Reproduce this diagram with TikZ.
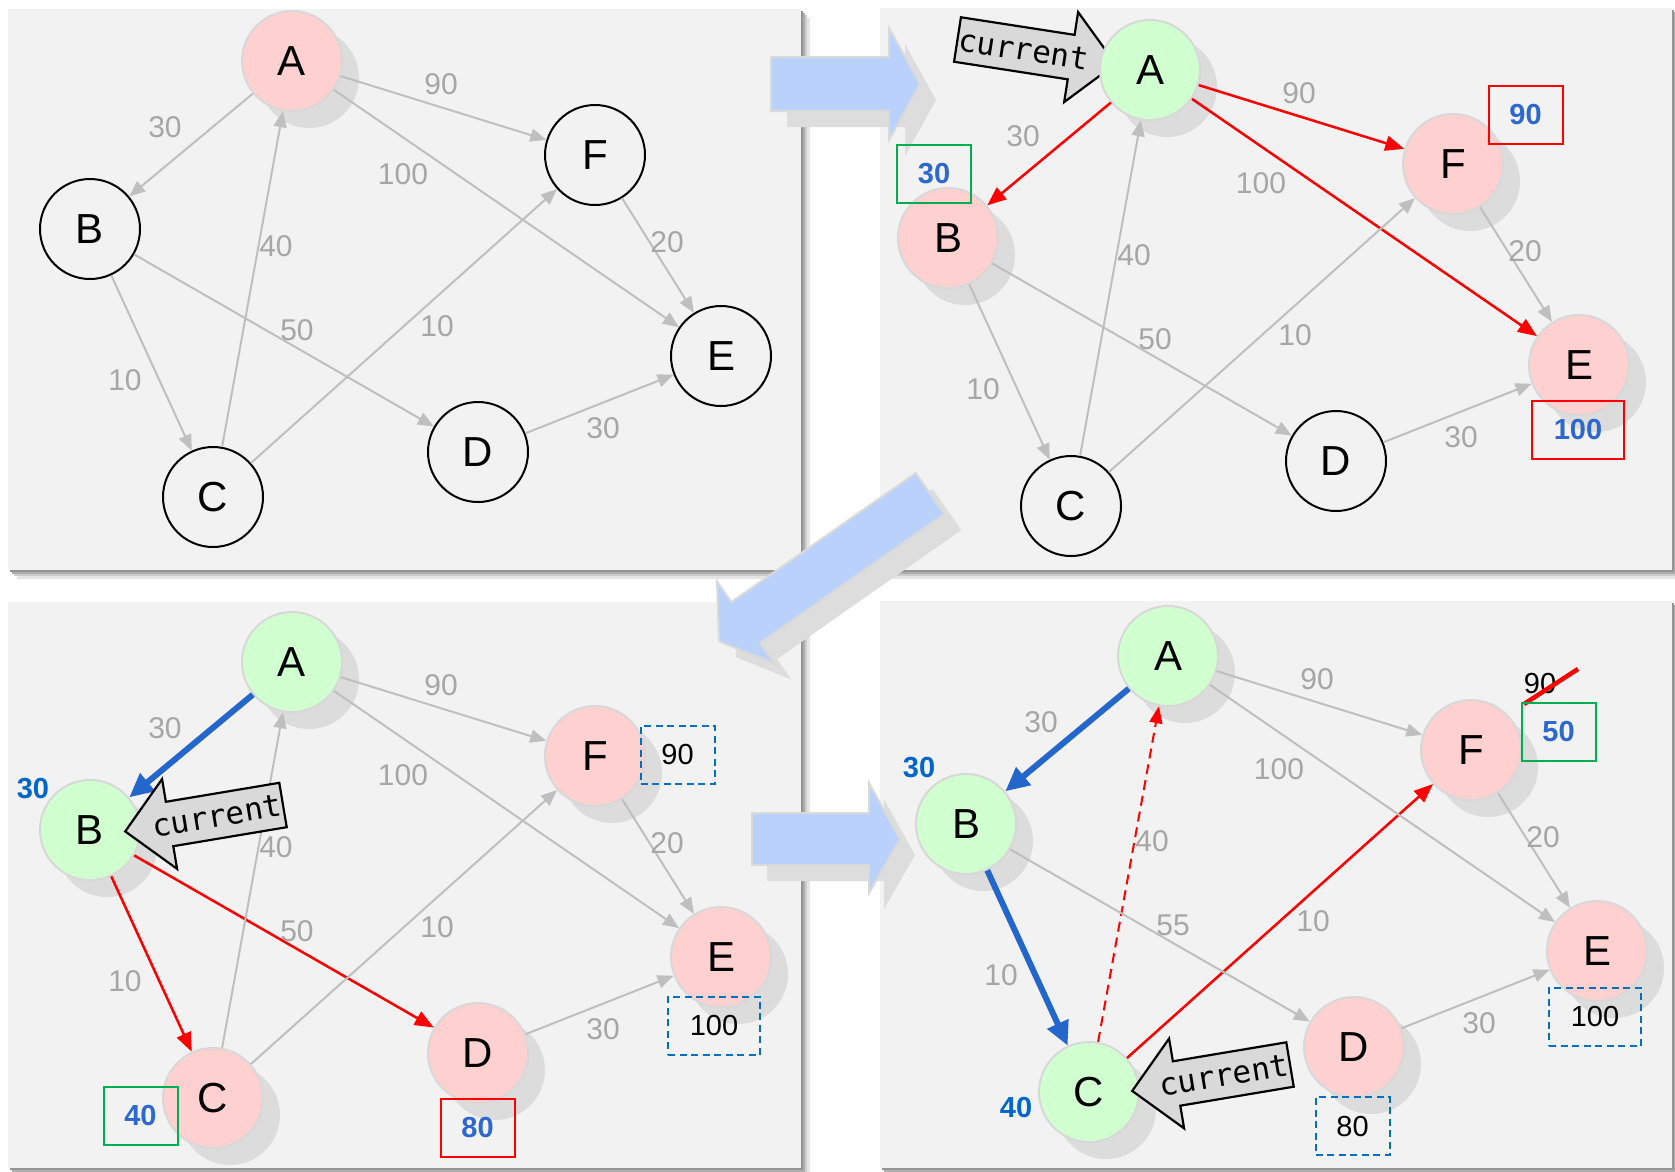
\documentclass[tikz,border=0pt]{standalone}
\usepackage{fontspec}
\setmainfont{Liberation Sans}
\newfontfamily\monof{DejaVu Sans Mono}
\usetikzlibrary{arrows.meta,shadows}
\definecolor{panelbg}{RGB}{242,242,242}
\definecolor{edgec}{RGB}{191,191,191}
\definecolor{labc}{RGB}{166,166,166}
\definecolor{pinkc}{RGB}{255,208,208}
\definecolor{greenc}{RGB}{208,255,208}
\definecolor{nodeline}{RGB}{216,216,216}
\definecolor{shadc}{RGB}{220,220,220}
\definecolor{arrblue}{RGB}{186,209,252}
\definecolor{arrline}{RGB}{218,218,218}
\definecolor{arrshad}{RGB}{221,221,221}
\definecolor{curfill}{RGB}{217,217,217}
\definecolor{boxgreen}{RGB}{0,176,80}
\definecolor{boxblue}{RGB}{0,112,192}
\definecolor{txtblue}{RGB}{45,104,206}
\definecolor{labblue}{RGB}{0,102,204}
\definecolor{thickblue}{RGB}{35,102,204}

\newcommand\mkgraph[9]{%
  \begin{scope}[shift={(#2,#3)}]
    \node[#4] (#1A) at (292,61) {A};
    \node[#5] (#1B) at (90,229) {B};
    \node[#6] (#1C) at (213,497) {C};
    \node[#7] (#1D) at (478,452) {D};
    \node[#8] (#1E) at (721,356) {E};
    \node[#9] (#1F) at (595,155) {F};
  \end{scope}}

\newcommand\mklabels[4]{%
  \begin{scope}[shift={(#2,#3)}]
    \node[elab] (#1l1) at (165,127) {30};
    \node[elab] (#1l2) at (441,84) {90};
    \node[elab] (#1l3) at (403,174) {100};
    \node[elab] (#1l4) at (276,246) {40};
    \node[elab] (#1l5) at (667,242) {20};
    \node[elab] (#1l6) at (297,330) {#4};
    \node[elab] (#1l7) at (437,326) {10};
    \node[elab] (#1l8) at (125,380) {10};
    \node[elab] (#1l9) at (603,428) {30};
  \end{scope}}

\newcommand\curarrow[5]{%
  \begin{scope}[shift={(#2,#3)}, rotate=#4]
    \filldraw[fill=curfill, draw=black, line width=2.2pt, line join=miter]
      (0,-22.5) -- (115,-22.5) -- (115,-45.5) -- (160,0) -- (115,45.5) -- (115,22.5) -- (0,22.5) -- cycle;
    \node[rotate=#5, font=\monof\fontsize{31}{31}\selectfont, inner sep=0pt] (#1) at (67,0) {current};
  \end{scope}}

\begin{document}
\begin{tikzpicture}[x=1pt,y=-1pt,
  basenode/.style={circle, line width=2pt, minimum size=100pt, inner sep=0pt, font=\fontsize{42}{42}\selectfont},
  wnode/.style={basenode, draw=black},
  pnode/.style={basenode, draw=nodeline, fill=pinkc, drop shadow={shadow xshift=17pt, shadow yshift=-17pt, fill=shadc, opacity=1}},
  gnode/.style={basenode, draw=nodeline, fill=greenc, drop shadow={shadow xshift=17pt, shadow yshift=-17pt, fill=shadc, opacity=1}},
  gE/.style={draw=edgec, line width=2pt, -{Triangle[length=16pt,width=13pt]}},
  rE/.style={draw=red, line width=2.5pt, -{Triangle[length=19pt,width=15pt]}},
  rdE/.style={draw=red, line width=2pt, dash pattern=on 10pt off 6pt, -{Triangle[length=17pt,width=13pt]}},
  bE/.style={draw=thickblue, line width=6pt, -{Triangle[length=24pt,width=22pt]}},
  elab/.style={text=labc, inner sep=0pt, font=\fontsize{30}{30}\selectfont},
  blab/.style={text=labblue, inner sep=0pt, font=\bfseries\fontsize{29}{29}\selectfont},
  boxbase/.style={line width=2pt, minimum width=74pt, minimum height=58pt, inner sep=0pt},
  gbox/.style={boxbase, draw=boxgreen, text=txtblue, font=\bfseries\fontsize{29}{29}\selectfont},
  rbox/.style={boxbase, draw=red, text=txtblue, font=\bfseries\fontsize{29}{29}\selectfont},
  dbox/.style={boxbase, draw=boxblue, dash pattern=on 7pt off 4.5pt, text=black, font=\fontsize{29}{29}\selectfont},
  dtxt/.style={inner sep=0pt, text=black, font=\fontsize{29}{29}\selectfont},
]
\useasboundingbox (0,0) rectangle (1675,1171);
\fill[white] (0,0) rectangle (1675,1171);

% panels with shadows
\foreach \xa/\ya/\xb/\yb in {8/9/801/570, 880/8/1672/570, 8/602/801/1168, 880/601/1672/1168} {
  \fill[black!10] (\xa+9,\ya+9) rectangle (\xb+9,\yb+9);
  \fill[black!20] (\xa+6,\ya+6) rectangle (\xb+6,\yb+6);
  \fill[black!32] (\xa+3.5,\ya+3.5) rectangle (\xb+3.5,\yb+3.5);
  \fill[black!42] (\xa+1.5,\ya+1.5) rectangle (\xb+1.5,\yb+1.5);
  \fill[panelbg] (\xa,\ya) rectangle (\xb,\yb);
}

% block arrows between panels
\fill[arrshad] (787,73) -- (905,73) -- (905,44) -- (936,100) -- (905,156) -- (905,127) -- (787,127) -- cycle;
\filldraw[fill=arrblue, draw=arrline, line width=2pt] (771,57) -- (889,57) -- (889,28) -- (920,84) -- (889,140) -- (889,111) -- (771,111) -- cycle;

\fill[arrshad] (767,829) -- (884,829) -- (884,799) -- (915,855) -- (884,909) -- (884,881) -- (767,881) -- cycle;
\filldraw[fill=arrblue, draw=arrline, line width=2pt] (752,813) -- (869,813) -- (869,783) -- (900,839) -- (869,893) -- (869,865) -- (752,865) -- cycle;

\begin{scope}[shift={(947,509.5)}, rotate=215]
  \fill[arrshad] (0,-25) -- (225,-25) -- (225,-50) -- (257.5,0) -- (225,50) -- (225,25) -- (0,25) -- cycle;
\end{scope}
\begin{scope}[shift={(930,493.5)}, rotate=215]
  \filldraw[fill=arrblue, draw=arrline, line width=2pt] (0,-25) -- (225,-25) -- (225,-50) -- (257.5,0) -- (225,50) -- (225,25) -- (0,25) -- cycle;
\end{scope}

% ---------------- Panel 1 ----------------
\mkgraph{a}{0}{0}{pnode}{wnode}{wnode}{wnode}{wnode}{wnode}
\draw[gE] (aA) -- (aB);
\draw[gE] (aA) -- (aF);
\draw[gE] (aA) -- (aE);
\draw[gE] (aB) -- (aC);
\draw[gE] (aB) -- (aD);
\draw[gE] (aC) -- (aA);
\draw[gE] (aC) -- (aF);
\draw[gE] (aF) -- (aE);
\draw[gE] (aD) -- (aE);
\mklabels{a}{0}{0}{50}

% ---------------- Panel 2 ----------------
\curarrow{bcur}{957.5}{39.5}{-8.8}{-8.8}
\mkgraph{b}{858}{9}{gnode}{pnode}{wnode}{wnode}{pnode}{pnode}
\draw[rE] (bA) -- (bB);
\draw[rE] (bA) -- (bF);
\draw[rE] (bA) -- (bE);
\draw[gE] (bB) -- (bC);
\draw[gE] (bB) -- (bD);
\draw[gE] (bC) -- (bA);
\draw[gE] (bC) -- (bF);
\draw[gE] (bF) -- (bE);
\draw[gE] (bD) -- (bE);
\mklabels{b}{858}{9}{50}
\node[gbox] (b30) at (934,174) {30};
\node[rbox] (b90) at (1525.5,115) {90};
\node[rbox, minimum width=92pt] (b100) at (1578,429.5) {100};

% ---------------- Panel 3 ----------------
\mkgraph{c}{0}{601}{gnode}{gnode}{pnode}{pnode}{pnode}{pnode}
\draw[bE] (cA) -- (cB);
\draw[rE] (cB) -- (cC);
\draw[rE] (cB) -- (cD);
\draw[gE] (cA) -- (cF);
\draw[gE] (cA) -- (cE);
\draw[gE] (cC) -- (cA);
\draw[gE] (cC) -- (cF);
\draw[gE] (cF) -- (cE);
\draw[gE] (cD) -- (cE);
\mklabels{c}{0}{601}{50}
\node[blab] (c30) at (33,789) {30};
\node[dbox] (c90) at (677.5,754.5) {90};
\node[dbox, minimum width=92pt] (c100) at (714,1025.5) {100};
\node[gbox] (c40) at (140.5,1115.5) {40};
\node[rbox] (c80) at (477.5,1127.5) {80};
\curarrow{ccur}{283}{805}{189.5}{9.5}

% ---------------- Panel 4 ----------------
\mkgraph{d}{876}{595}{gnode}{gnode}{gnode}{pnode}{pnode}{pnode}
\draw[bE] (dA) -- (dB);
\draw[bE] (dB) -- (dC);
\draw[rdE] (dC) -- (dA);
\draw[rE] (dC) -- (dF);
\draw[gE] (dA) -- (dF);
\draw[gE] (dA) -- (dE);
\draw[gE] (dB) -- (dD);
\draw[gE] (dF) -- (dE);
\draw[gE] (dD) -- (dE);
\mklabels{d}{876}{595}{55}
\node[blab] (d30) at (919,768) {30};
\node[blab] (d40) at (1016,1107) {40};
\node[dtxt] (d90) at (1540,684) {90};
\coordinate (s1) at (1524,704);
\coordinate (s2) at (1578,669);
\draw[red, line width=4.5pt] (s1) -- (s2);
\node[gbox] (d50) at (1558.5,731.5) {50};
\node[dbox, minimum width=92pt] (d100) at (1595,1016.5) {100};
\node[dbox] (d80) at (1352.5,1126) {80};
\curarrow{dcur}{1290}{1064.5}{189.5}{9.5}
\end{tikzpicture}
\end{document}
